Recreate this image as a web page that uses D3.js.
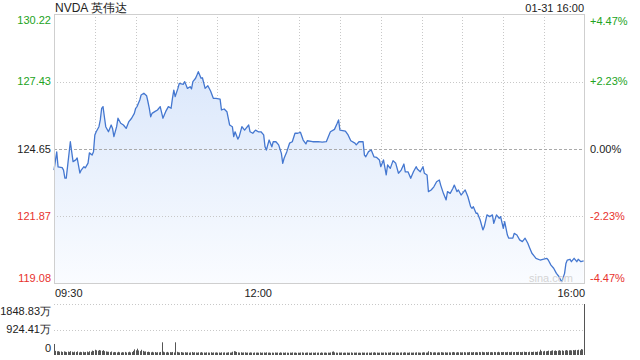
<!DOCTYPE html>
<html><head><meta charset="utf-8">
<script src="https://cdn.jsdelivr.net/npm/d3@7/dist/d3.min.js"></script>
<style>body{margin:0;background:#fff}svg{display:block;font-family:"Liberation Sans",Arial,sans-serif}</style>
</head><body><svg id="c" width="640" height="360"></svg>
<script>
const title = "NVDA 英伟达";
const stamp = "01-31 16:00";
const prevClose = 124.65;
const priceTicks = [130.22, 127.43, 124.65, 121.87, 119.08];
const pctTicks = ["+4.47%", "+2.23%", "0.00%", "-2.23%", "-4.47%"];
const timeTickMinutes = [0, 150, 390];
const timeTickLabels = ["09:30", "12:00", "16:00"];
const volTicks = [1848.83, 924.41, 0];
const volTickLabels = ["1848.83万", "924.41万", "0"];
const minutes = [0,2,3,6,7,8,9,12,14,16,17,19,20,22,23,25,26,28,29,30,31,33,34,35,36,37,38,40,42,43,44,46,47,49,51,53,55,57,59,60,61,63,64,66,68,69,70,71,72,74,76,78,80,82,84,86,87,88,89,91,92,95,96,98,100,101,102,104,105,106,108,109,111,113,115,117,119,122,123,125,127,129,131,132,133,135,136,138,140,141,143,144,146,148,150,152,154,155,156,157,158,160,161,163,165,167,168,169,171,173,175,177,179,181,183,185,186,190,194,197,200,202,203,206,208,209,210,212,214,216,218,221,222,224,227,228,229,231,233,235,237,239,240,242,244,245,247,249,251,253,255,257,258,260,262,264,266,267,269,271,272,274,275,277,279,281,283,284,286,288,289,291,293,294,296,297,299,301,302,304,306,307,308,310,311,313,315,316,318,320,322,323,325,327,328,330,331,333,334,337,338,340,342,344,346,348,349,351,353,354,357,359,362,363,365,367,369,371,372,373,375,376,377,379,380,382,384,385,387,389];
const prices = [123.78,124.53,123.91,123.88,123.78,123.45,123.45,124.95,124.13,124.20,124.28,123.66,123.78,123.92,123.87,124.07,124.49,124.40,124.54,125.23,125.36,125.57,125.85,126.33,126.40,125.98,125.57,125.36,125.64,125.50,125.16,125.57,125.92,125.71,125.64,125.50,125.78,125.92,126.12,126.33,126.40,126.67,126.88,126.95,126.85,126.60,126.33,125.98,126.12,126.19,126.26,126.40,125.92,126.19,126.40,126.33,126.74,127.08,126.81,127.15,127.36,127.32,127.43,127.15,127.22,127.13,127.43,127.57,127.70,127.84,127.57,127.59,127.15,127.26,127.04,126.74,126.74,126.71,126.26,126.30,126.19,125.64,125.57,125.16,125.36,125.06,125.16,125.57,125.43,125.50,125.64,125.36,125.30,125.43,125.36,125.36,125.23,124.74,124.61,124.82,125.02,124.74,124.95,124.95,124.82,124.47,124.06,124.27,124.54,124.89,124.95,125.30,125.30,125.34,125.02,124.86,124.99,124.95,124.95,124.93,124.95,125.23,125.36,125.46,125.71,125.85,125.43,125.41,125.39,125.23,124.99,124.89,124.82,124.95,124.95,124.40,124.33,124.54,124.61,124.33,124.30,124.20,123.92,124.20,123.58,123.99,123.85,124.17,124.06,123.65,123.78,124.03,123.71,123.71,123.44,123.71,123.92,123.81,123.71,123.92,123.65,123.58,122.89,122.96,123.09,123.30,123.37,123.16,122.82,122.55,122.89,122.82,123.03,123.16,122.89,122.96,122.75,122.89,122.96,122.68,122.27,122.20,122.27,122.00,122.00,121.72,121.31,121.44,121.93,121.86,121.93,121.58,121.93,121.79,121.86,121.38,121.65,121.10,120.97,120.97,121.17,121.10,120.90,120.83,120.97,120.76,120.62,120.35,120.21,120.14,120.07,120.10,120.14,120.07,119.86,119.73,119.52,119.38,119.25,119.18,119.52,119.93,120.07,120.10,120.00,120.14,120.00,120.10,120.00,120.03];
const volumes = [400,
150,135,140,120,128,110,132,118,105,
125,112,140,118,100,122,108,130,96,115,
105,120,98,110,125,102,135,118,160,145,
190,170,155,182,165,150,175,140,130,120,
118,105,128,96,110,102,92,115,100,88,
105,96,112,90,100,118,95,108,150,205,
170,230,165,140,190,150,125,130,110,120,
105,98,115,95,108,90,102,96,110,460,
120,100,95,112,90,105,98,110,92,460,
115,100,92,108,95,88,102,90,98,85,
95,110,88,100,92,85,98,90,105,87,
92,84,98,90,86,100,82,94,88,96,
85,92,80,98,88,95,84,90,100,86,
92,118,140,130,110,95,88,100,85,92,
98,84,90,82,95,88,80,92,86,90,
84,95,80,88,92,82,98,86,90,80,
88,82,92,85,90,78,96,84,88,80,
92,86,80,88,82,94,85,90,78,86,
82,90,95,85,80,88,92,84,78,90,
86,80,92,84,88,78,94,82,86,90,
80,88,84,92,118,130,95,88,82,90,
86,92,80,88,84,90,82,86,94,80,
88,84,90,82,86,80,92,84,88,82,
90,86,80,94,88,100,84,90,82,86,
92,84,88,95,82,90,86,105,88,84,
90,86,92,82,88,94,84,100,90,86,
82,95,88,84,90,86,98,92,88,84,
90,100,94,86,92,135,110,96,90,100,
94,88,98,92,105,96,90,100,88,94,
98,92,100,110,95,90,104,96,100,92,
98,105,94,100,96,110,102,94,108,98,
104,96,110,100,115,102,98,108,96,112,
100,106,98,110,104,100,115,96,108,102,
110,104,98,112,106,100,118,104,108,110,
104,115,108,100,112,120,106,110,104,118,
112,108,120,115,110,125,118,190,140,130,
150,135,145,160,140,155,170,150,165,145,
160,175,155,170,150,165,180,160,170,175,
165,180,170,185,175,190,170,215,200,230,
1848.83];

const GREEN = "#22a322", RED = "#e8322d", DARK = "#222";
const svg = d3.select("#c");
const L = 54, R = 585, T = 14, B = 284;
const VT = 304, VB = 355;

const x = d3.scaleLinear().domain([0, 390]).range([L, R]);
const y = d3.scaleLinear().domain([priceTicks[4], priceTicks[0]]).range([B, T]);
const yv = d3.scaleLinear().domain([0, volTicks[0]]).range([VB, VT]);

const defs = svg.append("defs");
const grad = defs.append("linearGradient").attr("id", "g").attr("gradientUnits", "userSpaceOnUse")
  .attr("x1", 0).attr("y1", T).attr("x2", 0).attr("y2", B);
grad.append("stop").attr("offset", 0).attr("stop-color", "#d3e2fa");
grad.append("stop").attr("offset", 1).attr("stop-color", "#fafcff");

// grid vertical
const vgrid = d3.range(30, 390, 30);
svg.append("g").selectAll("line").data(vgrid).join("line")
  .attr("x1", d => Math.round(x(d)) + 0.5).attr("x2", d => Math.round(x(d)) + 0.5)
  .attr("y1", T).attr("y2", B).attr("stroke", "#c8c8c8").attr("stroke-dasharray", "1,2");

// area + line
const pts = minutes.map((m, i) => [m, prices[i]]);
svg.append("path").datum(pts)
  .attr("d", d3.area().x(d => x(d[0])).y0(B).y1(d => y(d[1])))
  .attr("fill", "url(#g)");

// horizontal grid
svg.append("g").selectAll("line").data(priceTicks.slice(1, 4)).join("line")
  .attr("x1", L).attr("x2", R).attr("y1", d => Math.round(y(d)) + 0.5).attr("y2", d => Math.round(y(d)) + 0.5)
  .attr("stroke", d => d === prevClose ? "#aaa" : "#c8c8c8")
  .attr("stroke-dasharray", d => d === prevClose ? "3,2" : "1,2");

svg.append("path").datum(pts)
  .attr("d", d3.line().x(d => x(d[0])).y(d => y(d[1])))
  .attr("fill", "none").attr("stroke", "#4477d0").attr("stroke-width", 1.3).attr("stroke-linejoin", "round");

// frame
svg.append("rect").attr("x", L + 0.5).attr("y", T + 0.5).attr("width", R - L - 1).attr("height", B - T - 1)
  .attr("fill", "none").attr("stroke", "#cfcfcf");

// watermark
svg.append("text").attr("x", 551).attr("y", 282).attr("text-anchor", "middle")
  .attr("font-size", 11).attr("fill", "#d4d4d4").text("sina.com");

const colorFor = v => v > prevClose ? GREEN : (v < prevClose ? RED : DARK);
// left labels
svg.append("g").selectAll("text").data(priceTicks).join("text")
  .attr("x", 51).attr("y", d => Math.min(Math.max(y(d), 20), 278)).attr("dy", "0.35em")
  .attr("text-anchor", "end").attr("font-size", 11).attr("fill", colorFor)
  .text(d => d.toFixed(2));
// right labels
svg.append("g").selectAll("text").data(priceTicks).join("text")
  .attr("x", 590).attr("y", d => Math.min(Math.max(y(d), 21), 278)).attr("dy", "0.35em")
  .attr("text-anchor", "start").attr("font-size", 11).attr("fill", colorFor)
  .text((d, i) => pctTicks[i]);

// title & stamp
svg.append("text").attr("x", 55).attr("y", 12).attr("font-size", 12).attr("fill", DARK).text(title);
svg.append("text").attr("x", 584).attr("y", 12).attr("text-anchor", "end").attr("font-size", 11).attr("fill", DARK).text(stamp);

// time labels
svg.append("g").selectAll("text").data(timeTickMinutes).join("text")
  .attr("x", (d, i) => i === 0 ? L + 1 : (i === timeTickMinutes.length - 1 ? R : x(d)))
  .attr("y", 297)
  .attr("text-anchor", (d, i) => i === 0 ? "start" : (i === timeTickMinutes.length - 1 ? "end" : "middle"))
  .attr("font-size", 11).attr("fill", DARK).text((d, i) => timeTickLabels[i]);

// volume grid
svg.append("g").selectAll("line").data(volTicks.slice(0, 2)).join("line")
  .attr("x1", L).attr("x2", R).attr("y1", d => Math.round(yv(d)) + 0.5).attr("y2", d => Math.round(yv(d)) + 0.5)
  .attr("stroke", "#c8c8c8").attr("stroke-dasharray", "1,2");

// volume bars
svg.append("g").selectAll("rect").data(volumes).join("rect")
  .attr("x", (d, i) => Math.min(Math.round(x(i)), R - 1)).attr("width", 1)
  .attr("y", d => yv(d)).attr("height", d => VB - yv(d)).attr("fill", "#555");

// volume labels
svg.append("g").selectAll("text").data(volTicks).join("text")
  .attr("x", 51).attr("y", d => Math.min(Math.max(yv(d), 311), 348)).attr("dy", "0.35em")
  .attr("text-anchor", "end").attr("font-size", 11).attr("fill", DARK)
  .text((d, i) => volTickLabels[i]);
</script></body></html>
